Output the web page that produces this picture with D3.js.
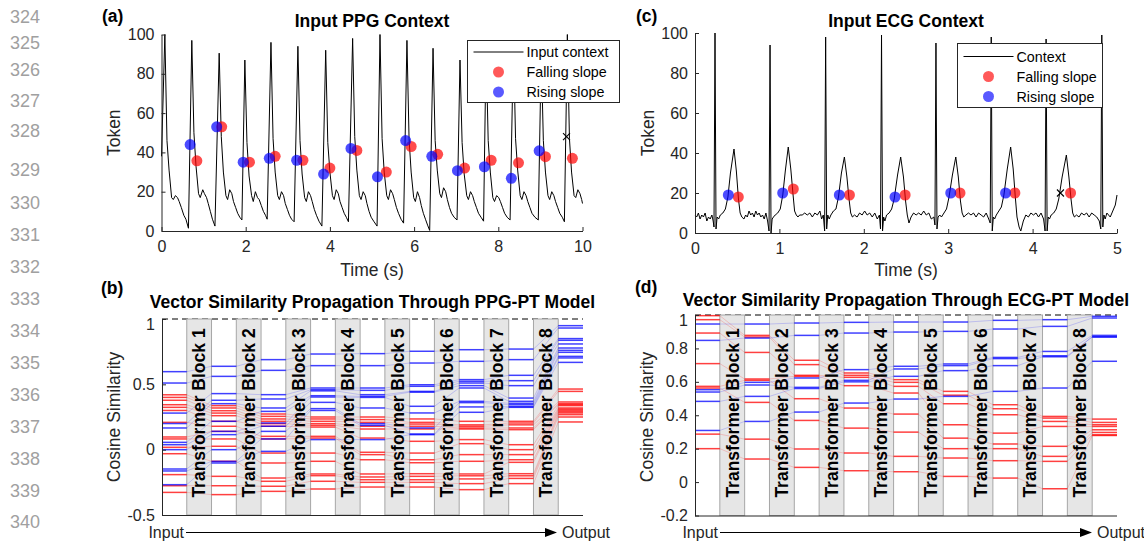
<!DOCTYPE html>
<html><head><meta charset="utf-8">
<script src="https://cdn.jsdelivr.net/npm/d3@7"></script>
<style>
body{margin:0;background:#fff;}
svg{display:block;background:#fff;}
</style></head><body>
<svg id="c" width="1144" height="543"></svg>
<script>
// ---------------- DATA ----------------
const lineNumbers = [324,325,326,327,328,329,330,331,332,333,334,335,336,337,338,339,340];
const tokenTicks = [0,20,40,60,80,100];
const ppgTimeTicks = [0,2,4,6,8,10];
const ecgTimeTicks = [0,1,2,3,4,5];
const ppgSimTicks = [-0.5,0,0.5,1];
const ecgSimTicks = [-0.2,0,0.2,0.4,0.6,0.8,1];
const blockLabels = ["Transformer Block 1","Transformer Block 2","Transformer Block 3","Transformer Block 4","Transformer Block 5","Transformer Block 6","Transformer Block 7","Transformer Block 8"];

// PPG input context [time s, token]
const ppgTrace = [
[0,38],[0.08,100],
[0.13,46],[0.18,31],[0.24,17],[0.28,16],[0.33,18],[0.38,17],[0.42,15],[0.47,12],[0.53,8],[0.58,6],[0.64,1.4],
[0.72,97],[0.77,50],[0.82,33],[0.88,19],[0.92,17],[0.98,21],[1.02,19],[1.07,17],[1.11,14],[1.16,10],[1.21,6],[1.27,2.5],
[1.37,90.5],[1.42,48],[1.47,30],[1.53,18],[1.57,16],[1.62,21],[1.67,19],[1.71,15],[1.76,12],[1.81,9],[1.86,7],[1.91,5.6],
[1.98,87],[2.03,45],[2.08,28],[2.14,18],[2.18,15],[2.23,20],[2.28,17],[2.32,16],[2.37,13],[2.42,10],[2.47,8],[2.51,6],
[2.60,96],[2.65,47],[2.70,30],[2.76,18],[2.80,16],[2.85,20],[2.90,18],[2.94,14],[2.99,11],[3.04,8],[3.09,6],[3.15,4.7],
[3.24,94],[3.29,46],[3.34,29],[3.40,17],[3.44,15],[3.49,20],[3.54,18],[3.58,15],[3.63,11],[3.68,8],[3.74,5],[3.81,2.5],
[3.90,92],[3.95,45],[4.00,30],[4.06,18],[4.10,16],[4.15,21],[4.20,19],[4.24,15],[4.29,12],[4.34,9],[4.39,7],[4.44,4.7],
[4.54,98],[4.59,48],[4.64,31],[4.70,18],[4.74,16],[4.79,20],[4.84,18],[4.88,14],[4.93,10],[4.98,7],[5.04,5],[5.12,2.5],
[5.19,100],[5.24,47],[5.29,30],[5.35,18],[5.39,16],[5.44,21],[5.49,19],[5.53,16],[5.58,12],[5.63,9],[5.69,6],[5.75,4],
[5.83,97],[5.88,47],[5.93,30],[5.99,17],[6.03,15],[6.08,20],[6.13,17],[6.17,13],[6.22,9],[6.27,6],[6.32,3],[6.37,0.3],
[6.45,93],[6.50,46],[6.55,31],[6.61,19],[6.65,17],[6.70,22],[6.75,20],[6.79,16],[6.84,12],[6.89,9],[6.95,7],[7.02,5.6],
[7.09,87],[7.14,45],[7.19,29],[7.25,18],[7.29,16],[7.34,20],[7.39,18],[7.43,15],[7.48,12],[7.53,9],[7.59,7],[7.65,5],
[7.71,93],[7.76,46],[7.81,30],[7.87,17],[7.91,15],[7.96,18],[8.01,17],[8.05,15],[8.10,12],[8.15,9],[8.21,7],[8.28,5.6],
[8.36,96],[8.41,47],[8.46,31],[8.52,18],[8.56,16],[8.61,20],[8.66,18],[8.70,15],[8.75,12],[8.80,9],[8.87,7],[8.95,5.6],
[9.02,91],[9.07,46],[9.12,30],[9.18,18],[9.22,16],[9.27,20],[9.32,18],[9.36,15],[9.41,12],[9.46,9],[9.52,7],[9.57,4.7],
[9.64,100],[9.69,47],[9.74,30],[9.80,18],[9.84,17],[9.89,21],[9.94,19],[9.98,16],[10.0,14]
];
const ppgFalling = [[0.84,35.7],[1.43,53],[2.09,35],[2.70,38],[3.36,36],[4.00,32],[4.64,41],[5.34,30],[5.93,43],[6.56,39],[7.20,32],[7.83,36],[8.48,34.7],[9.12,37.8],[9.76,37]];
const ppgRising = [[0.68,44],[1.31,53],[1.94,35],[2.56,37],[3.21,36],[3.85,29],[4.50,42],[5.13,27.6],[5.80,46],[6.42,38],[7.03,30.7],[7.67,32.7],[8.31,26.8],[8.97,40.8]];
const ppgCross = [[9.62,48]];

// ECG input context [time s, token]
const ecgTrace = [
[0.00,9],[0.02,8],[0.04,10],[0.06,7],[0.08,9],[0.10,8],[0.12,10],[0.14,6],[0.16,8],[0.18,7],[0.20,9],[0.215,6],
[0.225,3],[0.237,100],[0.249,2],[0.262,8],[0.28,7],[0.30,9],[0.33,10],[0.36,12],[0.39,18],[0.42,30],[0.462,42],[0.49,31],[0.515,17],[0.535,10],[0.555,8],[0.58,7],[0.60,9],[0.62,8],[0.64,11],[0.66,9],[0.68,10],[0.70,8],[0.72,11],[0.74,9],[0.76,10],[0.78,8],[0.80,9],[0.82,7],[0.84,10],[0.86,6],
[0.877,1],[0.889,94],[0.901,0],[0.914,7],[0.93,8],[0.95,9],[0.98,10],[1.01,12],[1.04,19],[1.07,31],[1.105,43],[1.135,32],[1.16,20],[1.18,11],[1.20,9],[1.22,8],[1.24,9],[1.27,9],[1.30,10],[1.33,9],[1.36,10],[1.39,8],[1.42,10],[1.45,9],[1.48,11],[1.50,7],[1.52,9],
[1.536,1],[1.548,98],[1.56,2],[1.573,9],[1.59,7],[1.61,9],[1.64,11],[1.67,12],[1.70,18],[1.735,30],[1.77,38],[1.80,28],[1.825,17],[1.845,10],[1.865,8],[1.89,9],[1.92,8],[1.95,10],[1.98,9],[2.01,11],[2.04,9],[2.07,10],[2.10,8],[2.13,10],[2.16,7],[2.185,9],
[2.198,2],[2.21,99],[2.222,1],[2.235,8],[2.25,6],[2.27,9],[2.30,10],[2.33,12],[2.36,17],[2.40,29],[2.437,38],[2.47,28],[2.495,16],[2.515,9],[2.535,5],[2.56,8],[2.59,10],[2.62,9],[2.65,10],[2.68,9],[2.71,11],[2.74,9],[2.77,10],[2.80,7],[2.83,8],
[2.843,4],[2.855,95],[2.867,2],[2.88,8],[2.90,9],[2.92,8],[2.95,10],[2.98,12],[3.01,18],[3.05,29],[3.09,38],[3.12,28],[3.145,16],[3.165,10],[3.185,8],[3.21,9],[3.24,10],[3.27,9],[3.30,10],[3.33,8],[3.36,10],[3.39,9],[3.42,8],[3.45,10],[3.48,7],
[3.498,5],[3.51,98],[3.522,1],[3.535,8],[3.55,7],[3.57,9],[3.60,11],[3.63,13],[3.66,19],[3.70,32],[3.74,43],[3.77,32],[3.795,18],[3.815,8],[3.84,3],[3.86,1],[3.89,6],[3.92,9],[3.95,8],[3.98,10],[4.01,9],[4.04,10],[4.07,8],[4.10,10],[4.13,7],
[4.148,1],[4.16,97],[4.172,1],[4.185,8],[4.20,7],[4.22,9],[4.25,10],[4.28,12],[4.31,17],[4.35,28],[4.40,39],[4.43,28],[4.455,17],[4.475,10],[4.495,8],[4.52,9],[4.55,8],[4.58,10],[4.61,9],[4.64,10],[4.67,8],[4.70,10],[4.73,9],[4.76,8],[4.79,6],
[4.808,2],[4.82,99],[4.832,3],[4.845,9],[4.86,7],[4.88,10],[4.90,9],[4.92,8],[4.94,10],[4.96,12],[4.98,14],[5.0,19]
];
const ecgFalling = [[0.513,18],[1.165,22],[1.83,19],[2.49,19],[3.14,20],[3.79,20],[4.45,20]];
const ecgRising = [[0.395,19],[1.039,20],[1.71,19],[2.37,18],[3.03,20],[3.68,20]];
const ecgCross = [[4.33,20]];

// Cosine similarity per layer (Input, after block 1..8)
const ppgSimBlue = [
[0.597,0.51,0.28,0.2,0.166,0.056,0.038,0.0,-0.148,-0.163,-0.268],
[0.638,0.561,0.429,0.378,0.352,0.217,0.14,0.115,0.0,-0.09,-0.102],
[0.689,0.607,0.421,0.388,0.319,0.293,0.204,0.179,0.14,0.082,-0.013],
[0.732,0.643,0.472,0.459,0.45,0.413,0.403,0.362,0.314,0.3,0.077],
[0.735,0.643,0.472,0.454,0.421,0.408,0.4,0.319,0.199,0.186,0.077],
[0.753,0.663,0.497,0.485,0.446,0.44,0.332,0.281,0.166,0.12,0.115],
[0.765,0.676,0.536,0.523,0.51,0.49,0.472,0.37,0.36,0.327,0.286],
[0.77,0.689,0.569,0.528,0.49,0.395,0.37,0.355,0.344,0.33,0.324],
[0.949,0.931,0.85,0.837,0.809,0.778,0.76,0.745,0.714,0.702,0.668]
];
const ppgSimRed = [
[0.42,0.40,0.378,0.344,0.324,0.30,0.209,0.097,0.082,0.018,-0.031,-0.191,-0.276,-0.327],
[0.337,0.319,0.298,0.28,0.26,0.217,0.179,0.14,0.082,0.026,-0.089,-0.204,-0.276,-0.344],
[0.273,0.255,0.235,0.217,0.199,0.179,0.102,0.082,-0.026,-0.102,-0.217,-0.242,-0.28,-0.319],
[0.25,0.235,0.217,0.199,0.186,0.173,0.102,0.089,-0.026,-0.089,-0.186,-0.199,-0.242,-0.301],
[0.25,0.23,0.209,0.179,0.158,0.089,-0.02,-0.038,-0.077,-0.186,-0.209,-0.23,-0.25,-0.286],
[0.235,0.209,0.196,0.179,0.158,0.064,-0.026,-0.077,-0.1,-0.184,-0.204,-0.23,-0.25,-0.286],
[0.217,0.19,0.179,0.166,0.158,0.077,0.046,-0.038,-0.089,-0.186,-0.2,-0.224,-0.26,-0.306],
[0.217,0.204,0.19,0.166,0.153,0.038,0.0,-0.038,-0.077,-0.097,-0.184,-0.2,-0.22,-0.26],
[0.464,0.446,0.365,0.352,0.345,0.337,0.319,0.31,0.301,0.29,0.281,0.268,0.25,0.212]
];
const ecgSimBlue = [
[0.946,0.848,0.553,0.539,0.483,0.309],
[0.946,0.862,0.597,0.581,0.513,0.363],
[0.952,0.878,0.623,0.567,0.56,0.419],
[0.956,0.892,0.673,0.609,0.6,0.473],
[0.958,0.898,0.693,0.677,0.633,0.497],
[0.958,0.902,0.707,0.697,0.667,0.513],
[0.968,0.916,0.746,0.739,0.697,0.543],
[0.972,0.932,0.782,0.756,0.75,0.563],
[0.992,0.982,0.878,0.868,0.87,0.723]
];
const ecgSimRed = [
[0.996,0.972,0.892,0.709,0.573,0.563,0.287,0.2],
[0.878,0.868,0.776,0.617,0.609,0.477,0.257,0.138],
[0.729,0.703,0.639,0.633,0.499,0.369,0.198,0.088],
[0.653,0.639,0.627,0.577,0.443,0.323,0.174,0.068],
[0.613,0.597,0.573,0.533,0.407,0.299,0.154,0.062],
[0.543,0.52,0.469,0.343,0.263,0.2,0.144,0.034],
[0.463,0.439,0.403,0.293,0.228,0.2,0.128,0.024],
[0.393,0.383,0.363,0.333,0.214,0.154,0.124,-0.04],
[0.377,0.357,0.343,0.333,0.313,0.297,0.283,0.279]
];

// ---------------- DRAW ----------------
const FONT = '"Liberation Sans", Arial, Helvetica, sans-serif';
const AX = "#262626";
const svg = d3.select("#c").attr("font-family", FONT);

// line numbers (margin of the page)
const lnY = d3.scaleLinear().domain([324,325,326,327,328,329,330,340]).range([17,43,70,101,131,170,203,522]);
svg.append("g").selectAll("text").data(lineNumbers).join("text")
  .attr("x", 40).attr("y", d => lnY(d)).attr("dy","0.36em")
  .attr("text-anchor","end").attr("font-size",18).attr("fill","#a0a0a0")
  .text(d => d);

function styleAxis(g){
  g.attr("font-family", FONT).attr("font-size", 16);
  g.select(".domain").attr("stroke", AX).attr("stroke-width",1);
  g.selectAll(".tick line").attr("stroke", AX);
  g.selectAll(".tick text").attr("fill", AX);
}

function tracePanel(o){
  const x = d3.scaleLinear().domain(o.xDomain).range(o.xRange);
  const y = d3.scaleLinear().domain([0,100]).range(o.yRange);
  const g = svg.append("g");
  const cx = (o.xRange[0]+o.xRange[1])/2;
  g.append("path").datum(o.trace)
    .attr("fill","none").attr("stroke","#000").attr("stroke-width",1)
    .attr("stroke-linejoin","round")
    .attr("d", d3.line().x(d=>x(d[0])).y(d=>y(d[1])));
  g.append("g").selectAll("circle").data(o.falling).join("circle")
    .attr("cx",d=>x(d[0])).attr("cy",d=>y(d[1])).attr("r",5.5)
    .attr("fill","#ff0000").attr("fill-opacity",0.7);
  g.append("g").selectAll("circle").data(o.rising).join("circle")
    .attr("cx",d=>x(d[0])).attr("cy",d=>y(d[1])).attr("r",5.5)
    .attr("fill","#0000ff").attr("fill-opacity",0.7);
  o.cross.forEach(d=>{
    const px=x(d[0]), py=y(d[1]), s=3.5;
    g.append("path").attr("d",`M${px-s},${py-s}L${px+s},${py+s}M${px-s},${py+s}L${px+s},${py-s}`)
      .attr("stroke","#000").attr("stroke-width",1.1);
  });
  const ya = g.append("g").attr("transform",`translate(${o.xRange[0]},0)`)
    .call(d3.axisLeft(y).tickValues(tokenTicks).tickFormat(String).tickSize(-4).tickSizeOuter(0).tickPadding(7));
  styleAxis(ya);
  const xa = g.append("g").attr("transform",`translate(0,${o.yRange[0]})`)
    .call(d3.axisBottom(x).tickValues(o.xTicks).tickFormat(String).tickSize(-4).tickSizeOuter(0).tickPadding(10));
  styleAxis(xa);
  g.append("text").attr("x",cx).attr("y",276).attr("text-anchor","middle")
    .attr("font-size",17.5).attr("fill",AX).text("Time (s)");
  g.append("text").attr("transform",`translate(${o.xRange[0]-41.5},${(o.yRange[0]+o.yRange[1])/2}) rotate(-90)`)
    .attr("text-anchor","middle").attr("font-size",17.5).attr("fill",AX).text("Token");
  g.append("text").attr("x",cx).attr("y",26.5).attr("text-anchor","middle")
    .attr("font-size",17.5).attr("font-weight","bold").attr("fill","#000").text(o.title);
  g.append("text").attr("x",o.tag[0]).attr("y",o.tag[1])
    .attr("font-size",17.5).attr("font-weight","bold").attr("fill","#000").text(o.tagText);
  const L = o.legend;
  const lg = g.append("g");
  lg.append("rect").attr("x",L.x).attr("y",L.y).attr("width",L.w).attr("height",L.h)
    .attr("fill","#fff").attr("stroke",AX).attr("stroke-width",1);
  const rows = [L.y+L.r0, L.y+L.r0+L.dr, L.y+L.r0+2*L.dr];
  lg.append("line").attr("x1",L.x+6).attr("x2",L.x+56).attr("y1",rows[0]).attr("y2",rows[0])
    .attr("stroke","#000").attr("stroke-width",1);
  lg.append("circle").attr("cx",L.x+31).attr("cy",rows[1]).attr("r",5.5).attr("fill","#ff0000").attr("fill-opacity",0.65);
  lg.append("circle").attr("cx",L.x+31).attr("cy",rows[2]).attr("r",5.5).attr("fill","#0000ff").attr("fill-opacity",0.65);
  L.labels.forEach((t,i)=>{
    lg.append("text").attr("x",L.x+L.tx).attr("y",rows[i]).attr("dy","0.36em")
      .attr("font-size",14.3).attr("fill","#000").text(t);
  });
}

tracePanel({
  xDomain:[0,10], xRange:[161.5,582.5], yRange:[231,34.5],
  trace: ppgTrace, falling: ppgFalling, rising: ppgRising, cross: ppgCross,
  xTicks: ppgTimeTicks, title:"Input PPG Context", tag:[102,21.5], tagText:"(a)",
  legend:{x:467.5,y:40.5,w:152,h:62,r0:11.5,dr:20,tx:59,labels:["Input context","Falling slope","Rising slope"]}
});
tracePanel({
  xDomain:[0,5], xRange:[695,1117], yRange:[233,33],
  trace: ecgTrace, falling: ecgFalling, rising: ecgRising, cross: ecgCross,
  xTicks: ecgTimeTicks, title:"Input ECG Context", tag:[636,21.5], tagText:"(c)",
  legend:{x:957.5,y:43.5,w:145,h:64,r0:13,dr:20,tx:59,labels:["Context","Falling slope","Rising slope"]}
});

function simPanel(o){
  const x = d3.scaleLinear().domain([0,17]).range(o.xRange);
  const y = d3.scaleLinear().domain(o.yDomain).range(o.yRange);
  const g = svg.append("g");
  const top = y(1), bot = y(o.yDomain[0]);
  g.append("line").attr("x1",o.xRange[0]).attr("x2",o.xRange[1]).attr("y1",top).attr("y2",top)
    .attr("stroke","#000").attr("stroke-width",1.2).attr("stroke-dasharray","6,4");
  blockLabels.forEach((lab,i)=>{
    const k=i+1;
    g.append("rect").attr("x",x(2*k-1)).attr("y",top).attr("width",x(2*k)-x(2*k-1)).attr("height",bot-top)
      .attr("fill","#e6e6e6").attr("stroke","#a6a6a6").attr("stroke-width",1);
  });
  const conn = (layers,color)=>{
    for(let L=0; L<layers.length-1; L++){
      layers[L].forEach((v,i)=>{
        g.append("line").attr("x1",x(2*L+1)).attr("x2",x(2*L+2))
          .attr("y1",y(v)).attr("y2",y(layers[L+1][i]))
          .attr("stroke",color).attr("stroke-opacity",0.18).attr("stroke-width",1);
      });
    }
  };
  conn(o.red,"#ff0000"); conn(o.blue,"#0000ff");
  blockLabels.forEach((lab,i)=>{
    const k=i+1;
    g.append("text").attr("transform",`translate(${(x(2*k-1)+x(2*k))/2},${o.labelY}) rotate(-90)`)
      .attr("text-anchor","middle").attr("dy","0.36em").attr("font-size",17.5).attr("font-weight","bold")
      .attr("fill","#000").text(lab);
  });
  const seg = (layers,color)=>{
    layers.forEach((vals,L)=>{
      g.append("g").selectAll("line").data(vals).join("line")
        .attr("x1",x(2*L)).attr("x2",x(2*L+1)).attr("y1",d=>y(d)).attr("y2",d=>y(d))
        .attr("stroke",color).attr("stroke-opacity",0.75).attr("stroke-width",1.5);
    });
  };
  seg(o.red,"#ff0000"); seg(o.blue,"#0000ff");
  const ya = g.append("g").attr("transform",`translate(${o.xRange[0]},0)`)
    .call(d3.axisLeft(y).tickValues(o.ticks).tickFormat(String).tickSize(-4).tickSizeOuter(0).tickPadding(7));
  styleAxis(ya);
  ya.selectAll(".tick").filter(d=>d===1).select("text").attr("dy","0.65em");
  g.append("line").attr("x1",o.xRange[0]).attr("x2",o.xRange[1]).attr("y1",bot+0.5).attr("y2",bot+0.5)
    .attr("stroke",AX).attr("stroke-width",1);
  const cx=(o.xRange[0]+o.xRange[1])/2;
  g.append("text").attr("transform",`translate(${o.ylabX},${o.labelY+4}) rotate(-90)`)
    .attr("text-anchor","middle").attr("font-size",17.5).attr("fill",AX).text("Cosine Similarity");
  g.append("text").attr("x",cx).attr("y",o.titleY).attr("text-anchor","middle")
    .attr("font-size",17.5).attr("font-weight","bold").attr("fill","#000").text(o.title);
  g.append("text").attr("x",o.tag[0]).attr("y",o.tag[1])
    .attr("font-size",17.5).attr("font-weight","bold").attr("fill","#000").text(o.tagText);
  const ay=532.5;
  g.append("text").attr("x",o.arrow[0]-2).attr("y",537.5).attr("text-anchor","end")
    .attr("font-size",16).attr("fill",AX).text("Input");
  g.append("line").attr("x1",o.arrow[0]).attr("x2",o.arrow[1]-8).attr("y1",ay).attr("y2",ay)
    .attr("stroke","#000").attr("stroke-width",1.2);
  g.append("path").attr("d",`M${o.arrow[1]},${ay}L${o.arrow[1]-12},${ay-4.5}L${o.arrow[1]-12},${ay+4.5}Z`).attr("fill","#000");
  g.append("text").attr("x",o.arrow[1]+5).attr("y",537.5)
    .attr("font-size",16).attr("fill",AX).text("Output");
}

simPanel({
  xRange:[162,583], yDomain:[-0.5,1], yRange:[515,319], ticks:ppgSimTicks,
  red:ppgSimRed, blue:ppgSimBlue, labelY:413, ylabX:119.5, titleY:307.5,
  title:"Vector Similarity Propagation Through PPG-PT Model", tag:[101,294], tagText:"(b)",
  arrow:[186,557]
});
simPanel({
  xRange:[695,1117], yDomain:[-0.2,1], yRange:[515.5,315], ticks:ecgSimTicks,
  red:ecgSimRed, blue:ecgSimBlue, labelY:413, ylabX:653, titleY:306,
  title:"Vector Similarity Propagation Through ECG-PT Model", tag:[635,293], tagText:"(d)",
  arrow:[720,1092]
});
</script>
</body></html>
